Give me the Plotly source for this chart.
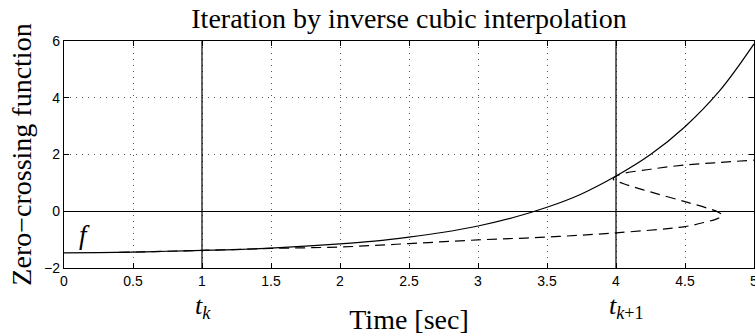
import plotly.graph_objects as go

# Zero-crossing function f(t) sampled over the step
t_f = [0.0, 0.25, 0.5, 0.75, 1.0, 1.25, 1.5, 1.75, 2.0, 2.25, 2.5, 2.75,
       3.0, 3.25, 3.5, 3.75, 4.0, 4.25, 4.5, 4.75, 5.0]
f_vals = [-1.47, -1.46, -1.44, -1.41, -1.38, -1.35, -1.30, -1.23, -1.15, -1.05,
          -0.91, -0.74, -0.52, -0.23, 0.14, 0.61, 1.24, 2.0, 2.98, 4.24, 5.90]

# Inverse cubic interpolant t = p(f), traced along f
t_cubic = [0.4, 1.0, 1.5, 2.0, 2.5, 3.0, 3.5, 4.0, 4.5, 4.65, 4.74, 4.77,
           4.74, 4.68, 4.5, 4.25, 4.05, 3.98, 4.02, 4.25, 4.5, 4.75, 5.0]
f_cubic = [-1.45, -1.38, -1.31, -1.26, -1.14, -1.01, -0.91, -0.76, -0.54,
           -0.38, -0.25, -0.14, -0.03, 0.08, 0.34, 0.68, 0.98, 1.13, 1.28,
           1.48, 1.63, 1.72, 1.80]

# Bracketing times of the iteration
t_marks = [1.0, 4.0]
t_mark_labels = ["<i>t</i><sub><i>k</i></sub>", "<i>t</i><sub><i>k</i>+1</sub>"]

x_ticks = [0, 0.5, 1, 1.5, 2, 2.5, 3, 3.5, 4, 4.5, 5]
y_ticks = [-2, 0, 2, 4, 6]

serif = "Liberation Serif"
sans = "Liberation Sans"

fig = go.Figure()

fig.add_trace(go.Scatter(
    x=t_f, y=f_vals, mode="lines",
    line=dict(color="black", width=1.2, shape="spline"),
    showlegend=False, hoverinfo="skip"))

fig.add_trace(go.Scatter(
    x=t_cubic, y=f_cubic, mode="lines",
    line=dict(color="black", width=1.2, dash="10px,6px", shape="spline", smoothing=1.0),
    showlegend=False, hoverinfo="skip"))

for tm, lab in zip(t_marks, t_mark_labels):
    fig.add_shape(type="line", xref="x", yref="paper", x0=tm, x1=tm, y0=0, y1=1,
                  line=dict(color="black", width=1.2), layer="above")
    fig.add_annotation(x=tm, xref="x", y=-0.172, yref="paper", text=lab,
                       showarrow=False, xanchor="left", yanchor="middle", xshift=-9,
                       font=dict(family=serif, size=26, color="black"))

fig.add_annotation(x=0.15, y=-0.85, xref="x", yref="y", text="<i>f</i>",
                   showarrow=False, xanchor="center", yanchor="middle",
                   font=dict(family=serif, size=27, color="black"))

axis_common = dict(
    showline=True, linecolor="black", linewidth=1.3, mirror="ticks",
    ticks="inside", ticklen=5, tickwidth=1, tickcolor="black",
    showgrid=True, gridcolor="#555555", gridwidth=1, griddash="1px,5px",
    tickfont=dict(family=sans, size=14, color="black"),
    ticklabeloverflow="allow",
)

fig.update_xaxes(range=[0, 5], tickvals=x_ticks,
                 ticktext=[f"{v:g}" for v in x_ticks], zeroline=False,
                 title=dict(text="Time [sec]", standoff=26,
                            font=dict(family=serif, size=28, color="black")),
                 **axis_common)
fig.update_yaxes(range=[-2, 6], tickvals=y_ticks,
                 ticktext=[f"{v:g}".replace("-", "\u2212") for v in y_ticks],
                 zeroline=True, zerolinecolor="black", zerolinewidth=1.2,
                 title=dict(text="Zero\u2212crossing function", standoff=4,
                            font=dict(family=serif, size=28, color="black")),
                 **axis_common)

fig.update_layout(
    width=755, height=335,
    margin=dict(l=64, r=1, t=41, b=67, autoexpand=False),
    paper_bgcolor="white", plot_bgcolor="white",
    title=dict(text="Iteration by inverse cubic interpolation",
               x=0.5, xref="paper", y=1 - 18 / 335, yref="container",
               xanchor="center", yanchor="middle",
               font=dict(family=serif, size=28, color="black")),
)

fig.write_html("out.html")
